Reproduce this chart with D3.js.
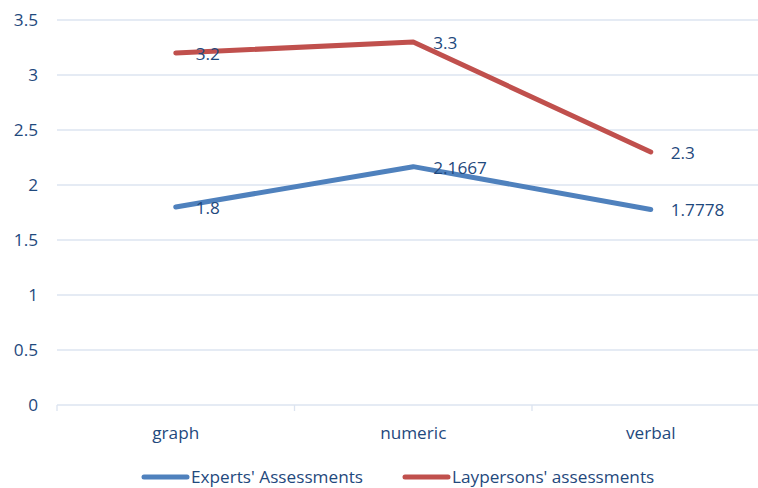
<!DOCTYPE html>
<html><head><meta charset="utf-8">
<script src="https://cdn.jsdelivr.net/npm/d3@7"></script>
<style>body{margin:0;background:#fff}text{font-family:"Open Sans",sans-serif;fill:#1F497D}</style>
</head><body><svg id="c" width="758" height="488"></svg>
<script>
const categories = ["graph", "numeric", "verbal"];
const experts = [1.8, 2.1667, 1.7778];
const laypersons = [3.2, 3.3, 2.3];
const yTicks = [0, 0.5, 1, 1.5, 2, 2.5, 3, 3.5];
const seriesNames = ["Experts' Assessments", "Laypersons' assessments"];
const colors = ["#4F81BD", "#C0504D"];

const svg = d3.select("#c");
const fs = "17.2px";
const x = d3.scaleBand().domain(categories).range([57, 769.5]);
const y = d3.scaleLinear().domain([0, 3.5]).range([405, 20]);

svg.append("g").selectAll("line").data(yTicks).join("line")
  .attr("x1", 57).attr("x2", 769.5).attr("y1", d => y(d)).attr("y2", d => y(d))
  .attr("stroke", "#DCE4F0").attr("stroke-width", 1.3);

svg.append("g").selectAll("line").data(x.domain().concat(["_end"])).join("line")
  .attr("x1", (d, i) => 57 + i * x.bandwidth()).attr("x2", (d, i) => 57 + i * x.bandwidth())
  .attr("y1", 405).attr("y2", 411).attr("stroke", "#DCE4F0").attr("stroke-width", 1.3);

svg.append("g").selectAll("text").data(yTicks).join("text")
  .attr("x", 38).attr("y", d => y(d)).attr("dy", "0.35em").attr("text-anchor", "end")
  .style("font-size", fs).text(d => d);

svg.append("g").selectAll("text").data(categories).join("text")
  .attr("x", d => x(d) + x.bandwidth() / 2).attr("y", 433).attr("dy", "0.35em")
  .attr("text-anchor", "middle").style("font-size", fs).text(d => d);

const line = d3.line().x((d, i) => x(categories[i]) + x.bandwidth() / 2).y(d => y(d));
[experts, laypersons].forEach((s, k) => {
  svg.append("path").datum(s).attr("d", line).attr("fill", "none")
    .attr("stroke", colors[k]).attr("stroke-width", 5)
    .attr("stroke-linecap", "round").attr("stroke-linejoin", "round");
  svg.append("g").selectAll("text").data(s).join("text")
    .attr("x", (d, i) => x(categories[i]) + x.bandwidth() / 2 + 20)
    .attr("y", d => y(d) + 1).attr("dy", "0.35em")
    .style("font-size", fs).text(d => d);
});

const leg = [{x: 142, name: seriesNames[0], c: colors[0]}, {x: 403, name: seriesNames[1], c: colors[1]}];
leg.forEach(l => {
  svg.append("line").attr("x1", l.x + 2).attr("x2", l.x + 45).attr("y1", 477).attr("y2", 477)
    .attr("stroke", l.c).attr("stroke-width", 5).attr("stroke-linecap", "round");
  svg.append("text").attr("x", l.x + 49).attr("y", 477).attr("dy", "0.35em")
    .style("font-size", fs).text(l.name);
});
</script></body></html>
